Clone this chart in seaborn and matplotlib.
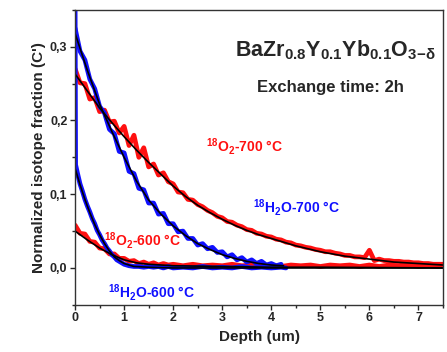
import numpy as np
import pandas as pd
import seaborn as sns
import matplotlib.pyplot as plt
from matplotlib.ticker import FuncFormatter, MultipleLocator

# -----------------------------
# Data (depth in um, normalized isotope fraction C')
# -----------------------------
# 18O2 - 700 C, measured profile
o2_700_x = [0.0, 0.1, 0.2, 0.3, 0.4, 0.5, 0.6, 0.7, 0.8, 0.9,
            1.0, 1.1, 1.2, 1.3, 1.4, 1.5, 1.6, 1.7, 1.8, 1.9,
            2.0, 2.1, 2.2, 2.3, 2.4, 2.5, 2.6, 2.7, 2.8, 2.9,
            3.0, 3.1, 3.2, 3.3, 3.4, 3.5, 3.6, 3.7, 3.8, 3.9,
            4.0, 4.1, 4.2, 4.3, 4.4, 4.5, 4.6, 4.7, 4.8, 4.9,
            5.0, 5.1, 5.2, 5.3, 5.4, 5.5, 5.6, 5.7, 5.8, 5.9,
            6.0, 6.1, 6.2, 6.3, 6.4, 6.5, 6.6, 6.7, 6.8, 6.9,
            7.0, 7.1, 7.2, 7.3, 7.4, 7.5]
o2_700_y = [0.270, 0.251, 0.250, 0.229, 0.231, 0.212, 0.214, 0.198, 0.199, 0.183,
            0.192, 0.166, 0.180, 0.150, 0.163, 0.137, 0.141, 0.126, 0.129, 0.117,
            0.114, 0.103, 0.102, 0.093, 0.092, 0.086, 0.083, 0.078, 0.075, 0.070,
            0.068, 0.063, 0.062, 0.058, 0.056, 0.052, 0.051, 0.047, 0.046, 0.043,
            0.042, 0.039, 0.038, 0.035, 0.034, 0.031, 0.030, 0.028, 0.027, 0.025,
            0.024, 0.022, 0.022, 0.020, 0.019, 0.017, 0.017, 0.015, 0.015, 0.014,
            0.024, 0.010, 0.012, 0.010, 0.010, 0.009, 0.009, 0.008, 0.008, 0.007,
            0.007, 0.006, 0.006, 0.005, 0.005, 0.005]

# 18H2O - 700 C, measured profile
h2o_700_x = [0.0, 0.1, 0.2, 0.3, 0.4, 0.5, 0.6, 0.7, 0.8, 0.9,
             1.0, 1.1, 1.2, 1.3, 1.4, 1.5, 1.6, 1.7, 1.8, 1.9,
             2.0, 2.1, 2.2, 2.3, 2.4, 2.5, 2.6, 2.7, 2.8, 2.9,
             3.0, 3.1, 3.2, 3.3, 3.4, 3.5, 3.6, 3.7, 3.8, 3.9,
             4.0, 4.1, 4.2]
h2o_700_y = [0.325, 0.294, 0.282, 0.256, 0.243, 0.219, 0.210, 0.188, 0.182, 0.158,
             0.156, 0.131, 0.128, 0.108, 0.106, 0.088, 0.088, 0.073, 0.074, 0.060,
             0.060, 0.049, 0.050, 0.040, 0.040, 0.031, 0.033, 0.026, 0.028, 0.021,
             0.022, 0.015, 0.018, 0.011, 0.014, 0.008, 0.011, 0.006, 0.009, 0.004,
             0.006, 0.003, 0.005]

# 18O2 - 600 C, measured profile
o2_600_x = [0.0, 0.1, 0.2, 0.3, 0.4, 0.5, 0.6, 0.7, 0.8, 0.9,
            1.0, 1.1, 1.2, 1.3, 1.4, 1.5, 1.6, 1.7, 1.8, 1.9,
            2.0, 2.2, 2.4, 2.6, 2.8, 3.0, 3.2, 3.4, 3.6, 3.8,
            4.0, 4.2, 4.4, 4.6, 4.8, 5.0, 5.2, 5.4, 5.6, 5.8,
            6.0, 6.2, 6.4, 6.6, 6.8, 7.0, 7.2, 7.4, 7.5]
o2_600_y = [0.058, 0.047, 0.046, 0.036, 0.035, 0.027, 0.026, 0.019, 0.019, 0.013,
            0.013, 0.009, 0.010, 0.006, 0.008, 0.005, 0.007, 0.004, 0.006, 0.004,
            0.005, 0.003, 0.005, 0.003, 0.004, 0.003, 0.005, 0.003, 0.004, 0.003,
            0.004, 0.002, 0.004, 0.003, 0.004, 0.002, 0.004, 0.003, 0.004, 0.002,
            0.004, 0.002, 0.004, 0.003, 0.004, 0.002, 0.003, 0.002, 0.003]

# 18H2O - 600 C, measured profile (first point is the surface spike)
h2o_600_x = [0.0, 0.01, 0.05, 0.10, 0.15, 0.20, 0.25, 0.30, 0.35, 0.40,
             0.45, 0.50, 0.55, 0.60, 0.65, 0.70, 0.75, 0.80, 0.85, 0.90,
             0.95, 1.00, 1.10, 1.20, 1.3, 1.4, 1.5, 1.6, 1.7, 1.8,
             1.9, 2.0, 2.2, 2.4, 2.6, 2.8, 3.0, 3.2, 3.4, 3.6,
             3.8, 4.0, 4.2, 4.3]
h2o_600_y = [0.360, 0.140, 0.128, 0.114, 0.104, 0.093, 0.084, 0.076, 0.067, 0.060,
             0.051, 0.045, 0.038, 0.033, 0.027, 0.023, 0.018, 0.015, 0.011, 0.009,
             0.007, 0.005, 0.003, 0.002, 0.002, 0.001, 0.002, 0.001, 0.002, 0.000,
             0.002, 0.000, 0.001, 0.000, 0.002, 0.000, 0.001, 0.000, 0.002, 0.000,
             0.001, 0.000, 0.001, 0.000]

# fitted curves (black)
fit_o2_700_x = [0.0, 0.25, 0.5, 0.75, 1.0, 1.25, 1.5, 1.75, 2.0, 2.25, 2.5, 2.75,
                3.0, 3.25, 3.5, 3.75, 4.0, 4.5, 5.0, 5.5, 6.0, 6.5, 7.0, 7.5]
fit_o2_700_y = [0.263, 0.240, 0.217, 0.197, 0.178, 0.160, 0.143, 0.127, 0.111, 0.097, 0.085, 0.075,
                0.066, 0.058, 0.051, 0.045, 0.040, 0.030, 0.022, 0.016, 0.012, 0.008, 0.006, 0.004]

fit_h2o_700_x = [0.0, 0.25, 0.5, 0.75, 1.0, 1.25, 1.5, 1.75, 2.0, 2.25, 2.5, 2.75,
                 3.0, 3.25, 3.5, 3.75, 4.0, 4.25]
fit_h2o_700_y = [0.318, 0.268, 0.222, 0.185, 0.150, 0.118, 0.092, 0.073, 0.057, 0.044, 0.033, 0.025,
                 0.018, 0.013, 0.009, 0.006, 0.004, 0.003]

fit_o2_600_x = [0.0, 0.25, 0.5, 0.75, 1.0, 1.25, 1.5, 2.0, 3.0, 4.0, 5.0, 7.5]
fit_o2_600_y = [0.050, 0.038, 0.027, 0.018, 0.011, 0.007, 0.005, 0.003, 0.002, 0.001, 0.001, 0.000]

fit_h2o_600_x = [0.0, 0.1, 0.2, 0.3, 0.4, 0.5, 0.6, 0.7, 0.8, 0.9, 1.0, 1.2, 1.5, 2.0, 7.5]
fit_h2o_600_y = [0.135, 0.113, 0.093, 0.075, 0.059, 0.045, 0.033, 0.023, 0.015, 0.010, 0.006, 0.002,
                 0.001, 0.000, 0.000]

RED = "#ff1010"
BLUE = "#1010ff"

# -----------------------------
# Style
# -----------------------------
sns.set_style("ticks")
plt.rcParams['font.family'] = ['Liberation Sans', 'DejaVu Sans']
plt.rcParams['font.weight'] = 'bold'
plt.rcParams['mathtext.fontset'] = 'custom'
plt.rcParams['mathtext.rm'] = 'Liberation Sans:bold'
plt.rcParams['mathtext.it'] = 'Liberation Sans:bold'
plt.rcParams['mathtext.bf'] = 'Liberation Sans:bold'
plt.rcParams['mathtext.fallback'] = 'stixsans'

fig = plt.figure(figsize=(4.47, 3.52), dpi=100)
ax = fig.add_axes([0.168, 0.134, 0.823, 0.838])

# measured profiles
for xs, ys, c in [(o2_700_x, o2_700_y, RED), (o2_600_x, o2_600_y, RED),
                  (h2o_700_x, h2o_700_y, BLUE), (h2o_600_x, h2o_600_y, BLUE)]:
    sns.lineplot(x=xs, y=ys, color=c, lw=3.4, estimator=None, sort=False, ax=ax)

# fits
for xs, ys in [(fit_o2_700_x, fit_o2_700_y), (fit_h2o_700_x, fit_h2o_700_y),
               (fit_o2_600_x, fit_o2_600_y), (fit_h2o_600_x, fit_h2o_600_y)]:
    sns.lineplot(x=xs, y=ys, color="black", lw=1.2, estimator=None, sort=False, ax=ax)

ax.set_xlim(0, 7.5)
ax.set_ylim(-0.05, 0.35)
ax.xaxis.set_major_locator(MultipleLocator(1))
ax.xaxis.set_minor_locator(MultipleLocator(0.5))
ax.yaxis.set_major_locator(MultipleLocator(0.1))
ax.yaxis.set_minor_locator(MultipleLocator(0.05))
ax.yaxis.set_major_formatter(FuncFormatter(lambda v, p: f"{v:.1f}".replace(".", ",")))
ax.xaxis.set_major_formatter(FuncFormatter(lambda v, p: f"{v:.0f}"))
ax.tick_params(which='major', length=3.5, width=1, labelsize=9, pad=2)
ax.tick_params(which='minor', length=2, width=1)
for lab in ax.get_xticklabels() + ax.get_yticklabels():
    lab.set_fontweight('bold')
for s in ax.spines.values():
    s.set_linewidth(1)
    s.set_color("#333333")

ax.set_xlabel("Depth (um)", fontsize=11, fontweight='bold', labelpad=4)
ax.set_ylabel("Normalized isotope fraction (C')", fontsize=11, fontweight='bold')
ax.yaxis.set_label_coords(-0.078, 0.5)

# curve labels
lab_kw = dict(fontsize=10, fontweight='bold', va='center', ha='left')
ax.text(2.66, 0.165, r"$^{18}$O$_2$-700 °C", color=RED, **lab_kw)
ax.text(3.62, 0.082, r"$^{18}$H$_2$O-700 °C", color=BLUE, **lab_kw)
ax.text(0.59, 0.037, r"$^{18}$O$_2$-600 °C", color=RED, **lab_kw)
ax.text(0.67, -0.033, r"$^{18}$H$_2$O-600 °C", color=BLUE, **lab_kw)

ax.text(0.707, 0.864, r"BaZr$_{0.8}$Y$_{0.1}$Yb$_{0.1}$O$_{3\mathrm{-}\delta}$",
        transform=ax.transAxes, ha='center', va='center', fontsize=15.5, fontweight='bold')
ax.text(0.693, 0.736, "Exchange time: 2h", transform=ax.transAxes, ha='center', va='center',
        fontsize=12, fontweight='bold')

fig.savefig("out.png", dpi=100)
